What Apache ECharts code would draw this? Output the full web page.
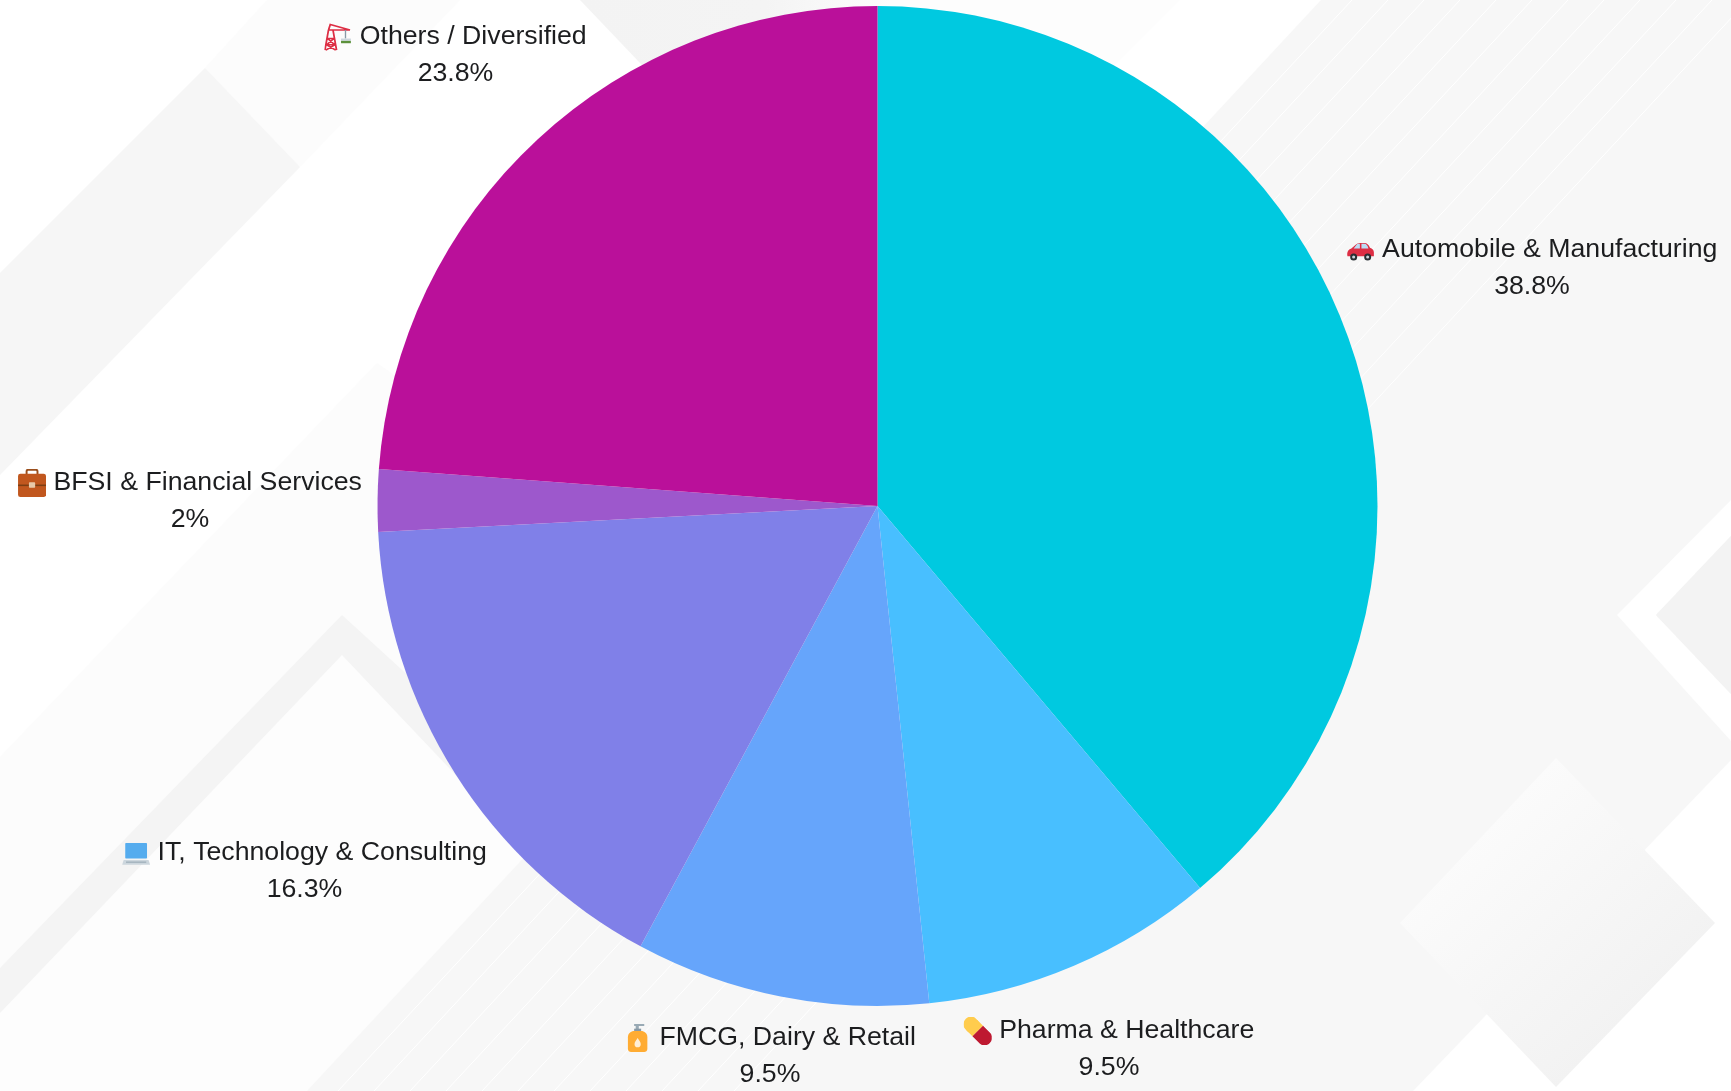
<!DOCTYPE html>
<html>
<head>
<meta charset="utf-8">
<style>html,body{margin:0;padding:0;background:#fff}#c{width:1731px;height:1091px}</style>
<script src="https://cdn.jsdelivr.net/npm/echarts@6/dist/echarts.min.js"></script>
</head>
<body>
<div id="c"></div>
<script>
const categories = ['Automobile & Manufacturing','Pharma & Healthcare','FMCG, Dairy & Retail','IT, Technology & Consulting','BFSI & Financial Services','Others / Diversified'];
const shares = [38.8, 9.5, 9.5, 16.3, 2, 23.8];
const sliceColors = ['#00c9e0','#48bfff','#66a5fb','#8080e8','#9d58cc','#ba109a'];
const iconKeys = ['car','pill','soap','laptop','case','crane'];
const labelCentres = [[1532,268.500],[1109,1049.500],[770,1056.500],[304.500,871.500],[190,501.500],[455.500,55.500]];

function svg(body){
  return 'data:image/svg+xml;charset=utf-8,' + encodeURIComponent(
    '<svg xmlns="http://www.w3.org/2000/svg" width="108" height="108" viewBox="0 0 36 36">' + body + '</svg>');
}
const icons = {
  car: svg('<path fill="#dd2e44" d="M1 26c-1-5 1-9 5-10l6-5c1-1 3-2 5-2h6c3 0 5 2 7 6 3 1 5 3 5 6v5z"/><path fill="#bbddf5" d="M9 16l4-5c1-1 2-1 4-1v6zM19 10h4c2 0 4 2 5 6h-9z"/><circle cx="9" cy="27" r="4.500" fill="#292f33"/><circle cx="9" cy="27" r="2" fill="#ccd6dd"/><circle cx="27" cy="27" r="4.500" fill="#292f33"/><circle cx="27" cy="27" r="2" fill="#ccd6dd"/>'),
  pill: svg('<g transform="rotate(45 18 18) translate(18 18) scale(1.100 1.200) translate(-18 -18)"><rect x="-2" y="10" width="20" height="16" rx="8" fill="#ffcc4d"/><rect x="8" y="10" width="10" height="16" fill="#ffcc4d"/><path d="M18 10h12a8 8 0 0 1 0 16H18z" fill="#be1931"/></g>'),
  soap: svg('<path fill="#99aab5" d="M13 0h13v2.500h-7V7h-4V2.500h-2z"/><rect x="13" y="6" width="9" height="4" fill="#8899a6"/><path fill="#ffac33" d="M5 17c0-5 4-8 8-8h9c4 0 8 3 8 8v15c0 2-2 4-4 4H9c-2 0-4-2-4-4z"/><path fill="#fff" d="M17.500 18c2.500 4 4 5 4 8a4 4 0 0 1-8 0c0-3 1.500-4 4-8z" opacity=".8"/>'),
  laptop: svg('<rect x="4" y="5" width="28" height="20" rx="1" fill="#55acee"/><path d="M2 27h32l2 6H0z" fill="#ccd6dd"/><rect x="5" y="29" width="26" height="1.500" fill="#99aab5"/>'),
  case: svg('<path fill="none" stroke="#9a4e1c" stroke-width="2.500" d="M11 7V3c0-1 1-2 2-2h10c1 0 2 1 2 2v4"/><rect x="0" y="6" width="36" height="30" rx="3" fill="#c1571e"/><rect x="0" y="20" width="36" height="2" fill="#7c3e13"/><rect x="14" y="17" width="8" height="7" rx="1" fill="#e8c9a8"/>'),
  crane: svg('<g transform="translate(-5 0) scale(1.150 1)"><path fill="none" stroke="#dd2e44" stroke-width="2" d="M5 35L9 9h5l4 26M7 28h9M8 20h7M6 35l10-7M17 35L7 28M7 28l8-8M16 28l-8-8M9 9L11 2l22 7H14"/><path stroke="#8899a6" stroke-width="1.500" d="M28 9v11"/><rect x="23" y="20" width="11" height="3" fill="#ccd6dd"/><rect x="23" y="23" width="11" height="3" fill="#5c913b"/></g>')
};

const rich = {
  name:{fontFamily:'Liberation Sans',fontSize:26.700,color:'#1c1d1f',lineHeight:37},
  val:{fontFamily:'Liberation Sans',fontSize:26.700,color:'#1c1d1f',lineHeight:37}
};
iconKeys.forEach(k => {
  rich[k] = {width:28,height:28,lineHeight:37,backgroundColor:{image:icons[k]}};
});

/* Page backdrop: pale geometric decoration */
function poly(points, fill, z){
  return {type:'polygon',silent:true,z:z||0,shape:{points},style:{fill}};
}
function grad(c0,c1){
  return {type:'linear',x:0,y:0,x2:1,y2:1,colorStops:[{offset:0,color:c0},{offset:1,color:c1}]};
}
const backdrop = [
  poly([[267,0],[460,0],[300,167],[205,68]],'#fcfcfc'),
  poly([[205,68],[300,167],[0,475],[0,273]],'#f6f6f6'),
  poly([[377,363],[0,757],[0,968],[342,615],[460,735],[430,400]],'#fcfcfc'),
  poly([[342,655],[0,1013],[0,1091],[312,1091],[600,800],[446,750]],'#fdfdfd'),
  poly([[342,615],[0,968],[0,1013],[342,655],[470,790],[495,755]],'#f4f4f4'),
  poly([[1321,0],[1731,0],[1731,760],[1413,1091],[307,1091]],'#f7f7f7'),
  poly([[880,0],[1180,0],[1060,120],[880,60]],'#fdfdfd'),
  {type:'polygon',silent:true,shape:{points:[[580,0],[890,0],[890,100],[660,84]]},
    style:{fill:{type:'linear',x:0,y:0,x2:1,y2:0,colorStops:[
      {offset:0,color:'#f3f3f3'},{offset:.6,color:'#f4f4f4'},{offset:1,color:'#fdfdfd'}]}}}
];
for (const x0 of [1352,1388,1424,1460,1496,1532,1568,1604,1640,1676,1712,1748]) {
  backdrop.push({type:'line',silent:true,shape:{x1:x0,y1:0,x2:x0-1014,y2:1091},
    style:{stroke:'#ffffff',lineWidth:1,opacity:1}});
}
backdrop.push(
  poly([[1617,615],[1731,500],[1731,536],[1656,615],[1731,694],[1731,741]],'#ffffff'),
  poly([[1656,615],[1731,536],[1731,694]],'#f3f3f3'),
  poly([[1556,758],[1715,923],[1556,1087],[1400,923]],grad('#ffffff','#eeeeee'))
);

const chart = echarts.init(document.getElementById('c'));
chart.setOption({
  backgroundColor:'#ffffff',
  animation:false,
  graphic:{elements:backdrop},
  series:[{
    type:'pie',
    center:[877.500,506],
    radius:[0,500],
    startAngle:90,
    clockwise:true,
    avoidLabelOverlap:false,
    silent:true,
    label:{
      show:true,
      position:'outside',
      align:'center',
      rich,
      formatter:p => '{'+iconKeys[p.dataIndex]+'|}{name| '+p.name+'}\n{val|'+p.value+'%}'
    },
    labelLine:{show:false},
    labelLayout:p => ({
      x:labelCentres[p.dataIndex][0],
      y:labelCentres[p.dataIndex][1],
      align:'center',
      verticalAlign:'middle'
    }),
    data:categories.map((name,i)=>({name,value:shares[i],itemStyle:{color:sliceColors[i]}}))
  }]
});
</script>
</body>
</html>
